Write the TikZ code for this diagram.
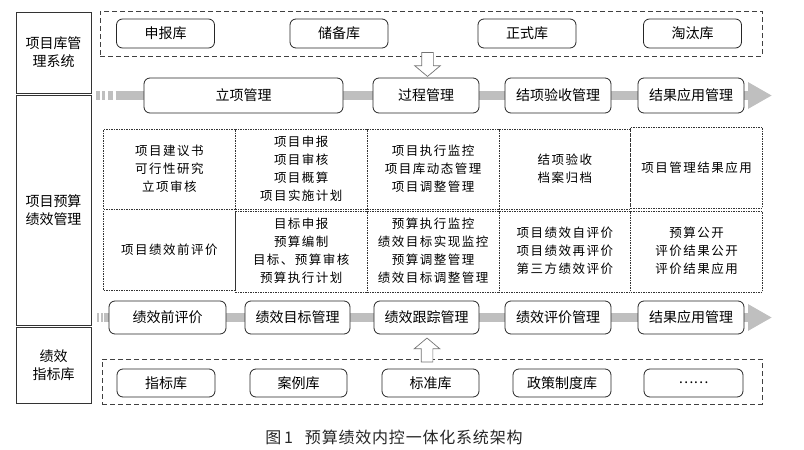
\documentclass[tikz,border=0pt]{standalone}
\usepackage{fontspec}
\setmainfont{Noto Sans CJK SC}
\usetikzlibrary{matrix,shapes.arrows,arrows.meta,backgrounds}
\newcommand\cellstack[1]{\begin{tabular}{@{}c@{}}#1\end{tabular}}

\begin{document}
\begin{tikzpicture}[x=1pt,y=-1pt,
    sidebox/.style={draw=black!80,line width=0.8pt,align=center,inner sep=0pt,
        font=\fontsize{14}{18}\selectfont},
    stage/.style={draw=black!85,line width=0.8pt,rounded corners=6pt,fill=white,
        inner sep=0pt,minimum width=106pt,minimum height=35pt,font=\fontsize{14}{16}\selectfont},
    lib/.style={stage,minimum width=98pt,minimum height=29pt},
    libframe/.style={draw=black!75,line width=1pt,dash pattern=on 5pt off 3pt,inner sep=0pt},
    band/.style={draw=black!25,line width=9pt,-{Triangle[length=24pt,width=25pt]}},
    chip/.style={fill=black!25},
    hollow/.style={single arrow,draw=black!55,fill=white,line width=0.7pt,inner sep=5.5pt,
        minimum height=24pt,single arrow head extend=7pt,single arrow tip angle=100}
    ]
    \useasboundingbox (0,0) rectangle (804,450);

    %left column
    \node[sidebox,minimum width=75pt,minimum height=81pt] (kusys) at (53.5,52.5) {项目库管\\理系统};
    \node[sidebox,minimum width=75pt,minimum height=230pt] (yusuan) at (53.5,210) {项目预算\\绩效管理};
    \node[sidebox,minimum width=75pt,minimum height=76pt] (zhibiao) at (53.5,365) {绩效\\指标库};

    %project libraries
    \node[libframe,minimum width=662pt,minimum height=45pt] (toplib) at (431,33.5) {};
    \node[lib] (shenbao) at (165.5,33.5) {申报库};
    \node[lib] (chubei) at (339,33.5) {储备库};
    \node[lib] (zhengshi) at (527,33.5) {正式库};
    \node[lib] (taotai) at (692.5,33.5) {淘汰库};

    %project stages
    \node[stage,minimum width=199pt] (lixiang) at (243.5,95.5) {立项管理};
    \node[stage] (guocheng) at (426,95.5) {过程管理};
    \node[stage] (jiexiang) at (558,95.5) {结项验收管理};
    \node[stage] (yingyong) at (691,95.5) {结果应用管理};
    \coordinate (topstart) at (115.5,95.5);
    \coordinate (topend) at (772,95.5);

    %performance stages
    \node[stage,minimum height=33pt,minimum width=117pt] (qianping) at (167.5,317.5) {绩效前评价};
    \node[stage,minimum height=33pt,minimum width=105pt] (mubiao) at (297.5,317.5) {绩效目标管理};
    \node[stage,minimum height=33pt,minimum width=105pt] (genzong) at (426.5,317.5) {绩效跟踪管理};
    \node[stage,minimum height=33pt] (pingjia) at (558,317.5) {绩效评价管理};
    \node[stage,minimum height=33pt] (jixiao) at (691,317.5) {结果应用管理};
    \coordinate (botstart) at (104,317.5);
    \coordinate (botend) at (772,317.5);

    %indicator libraries
    \node[libframe,minimum width=660pt,minimum height=45pt] (botlib) at (432,381.5) {};
    \node[lib,minimum height=28pt] (zhibiaoku) at (166,383) {指标库};
    \node[lib,minimum height=28pt,minimum width=97pt] (anli) at (298.5,383) {案例库};
    \node[lib,minimum height=28pt,minimum width=97pt] (biaozhun) at (430.5,383) {标准库};
    \node[lib,minimum height=28pt] (zhengce) at (562,383) {政策制度库};
    \node[lib,minimum height=28pt,minimum width=99pt] (qita) at (693.5,383) {……};

    %task grid
    \matrix (grid) at (103,127) [matrix of nodes,anchor=north west,inner sep=0pt,
        nodes={draw=black!80,line width=0.7pt,dash pattern=on 1.5pt off 1pt,inner sep=0pt,
            minimum width=131.8pt,minimum height=80.5pt,
            font=\fontsize{12.5}{18}\selectfont\addfontfeature{LetterSpace=12}},
        column sep=-0.7pt,row sep=-0.7pt]{
        \cellstack{项目建议书\\可行性研究\\立项审核} &
        \cellstack{项目申报\\项目审核\\项目概算\\项目实施计划} &
        \cellstack{项目执行监控\\项目库动态管理\\项目调整管理} &
        \cellstack{结项验收\\档案归档} &
        项目管理结果应用 \\
        项目绩效前评价 &
        \cellstack{目标申报\\预算编制\\目标、预算审核\\预算执行计划} &
        \cellstack{预算执行监控\\绩效目标实现监控\\预算调整管理\\绩效目标调整管理} &
        \cellstack{项目绩效自评价\\项目绩效再评价\\第三方绩效评价} &
        \cellstack{预算公开\\评价结果公开\\评价结果应用} \\};

    %flow bands
    \begin{scope}[on background layer]
        \draw[band] (topstart) -- (lixiang) -- (guocheng) -- (jiexiang) -- (yingyong) -- (topend);
        \draw[band] (botstart) -- (qianping) -- (mubiao) -- (genzong) -- (pingjia) -- (jixiao) -- (botend);
        \foreach \a/\b in {96/99.5,101.5/105,107.5/113,115.5/126}
            \fill[chip] (\a,91) rectangle (\b,100);
        \foreach \a/\b in {97/99,100.5/103}
            \fill[chip] (\a,313) rectangle (\b,322);
    \end{scope}

    %links to the libraries
    \node[hollow,shape border rotate=270] (pull) at (427.5,62) {};
    \node[hollow,shape border rotate=90] (push) at (427,352.5) {};

    \node[font=\fontsize{16}{16}\selectfont\addfontfeature{LetterSpace=5},text=black!85] (caption) at (394,437)
        {图\,1\hspace{12pt}预算绩效内控一体化系统架构};
\end{tikzpicture}
\end{document}
